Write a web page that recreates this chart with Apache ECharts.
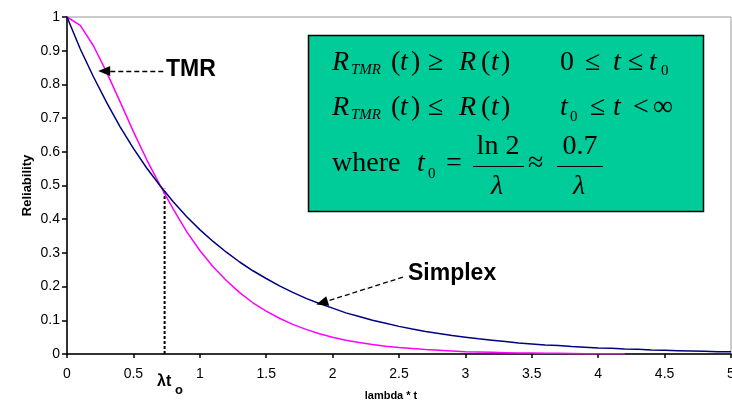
<!DOCTYPE html>
<html>
<head>
<meta charset="utf-8">
<script src="https://cdn.jsdelivr.net/npm/echarts@6/dist/echarts.min.js"></script>
<style>
html,body{margin:0;padding:0;background:#fff;}
#chart{width:732px;height:403px;}
</style>
</head>
<body>
<div id="chart"></div>
<script>
// ---- data ----
const xValues = [0,0.1,0.2,0.3,0.4,0.5,0.6,0.7,0.8,0.9,1.0,1.1,1.2,1.3,1.4,1.5,1.6,1.7,1.8,1.9,2.0,2.1,2.2,2.3,2.4,2.5,2.6,2.7,2.8,2.9,3.0,3.1,3.2,3.3,3.4,3.5,3.6,3.7,3.8,3.9,4.0,4.1,4.2,4.3,4.4,4.5,4.6,4.7,4.8,4.9,5.0];
const simplexValues = [1,0.905,0.822,0.745,0.674,0.610,0.552,0.500,0.452,0.408,0.369,0.334,0.302,0.273,0.247,0.224,0.202,0.183,0.165,0.150,0.136,0.122,0.111,0.100,0.091,0.082,0.074,0.067,0.061,0.055,0.050,0.045,0.041,0.037,0.033,0.030,0.027,0.025,0.022,0.020,0.018,0.017,0.015,0.014,0.012,0.011,0.010,0.009,0.008,0.007,0.007];
const tmrValues = [1,0.975,0.914,0.835,0.748,0.660,0.577,0.501,0.430,0.364,0.307,0.259,0.218,0.182,0.152,0.127,0.106,0.088,0.073,0.060,0.050,0.041,0.034,0.028,0.023,0.019,0.016,0.013,0.011,0.009,0.007,0.006,0.005,0.004,0.003,0.003,0.002,0.002,0.0015,0.001,0.001,0.001,0.001];
const t0X = 0.735;
const t0Y = 0.49;
const tmrArrow = [[0.725, 0.84], [0.28, 0.84]];
const simplexArrow = [[2.53, 0.228], [1.92, 0.152]];
const xAxisName = 'lambda * t';
const yAxisName = 'Reliability';

// ---- build ----
const simplexData = simplexValues.map((v, i) => [xValues[i], v]);
const tmrData = tmrValues.map((v, i) => [xValues[i], v]);
const t0Data = [[t0X, 0], [t0X, t0Y]];

const sans = '"Liberation Sans", Arial, sans-serif';
const serif = '"Liberation Serif", "Times New Roman", serif';

function txt(text, x, y, size, italic, align, family, weight) {
  return {
    type: 'text', x: x, y: y, z: 100,
    style: {
      text: text, fill: '#000',
      fontSize: size, fontFamily: family || serif,
      fontStyle: italic ? 'italic' : 'normal',
      fontWeight: weight || 'normal',
      align: align || 'left', verticalAlign: 'middle',
      textAlign: align || 'left', textVerticalAlign: 'middle'
    }
  };
}

const M = 28, S = 15;
const y1 = 62.5, y2 = 107.5, y3 = 164;
const boxTexts = [
  // line 1
  txt('R', 332, y1, M, true), txt('TMR', 351, y1 + 7.5, S, true),
  txt('(', 391, y1, M), txt('t', 400, y1, M, true), txt(')', 411, y1, M),
  txt('\u2265', 428, y1, M), txt('R', 459, y1, M, true),
  txt('(', 481, y1, M), txt('t', 491, y1, M, true), txt(')', 501, y1, M),
  txt('0', 560, y1, M), txt('\u2264', 585, y1, M), txt('t', 613, y1, M, true),
  txt('\u2264', 628, y1, M), txt('t', 649, y1, M, true), txt('0', 661, y1 + 9, S),
  // line 2
  txt('R', 332, y2, M, true), txt('TMR', 351, y2 + 7.5, S, true),
  txt('(', 391, y2, M), txt('t', 400, y2, M, true), txt(')', 411, y2, M),
  txt('\u2264', 428, y2, M), txt('R', 459, y2, M, true),
  txt('(', 481, y2, M), txt('t', 491, y2, M, true), txt(')', 501, y2, M),
  txt('t', 560, y2, M, true), txt('0', 570, y2 + 10, S),
  txt('\u2264', 590, y2, M), txt('t', 613, y2, M, true),
  txt('<', 633, y2, M), txt('\u221E', 653, y2, M),
  // line 3
  txt('where', 332, y3, M), txt('t', 417, y3, M, true), txt('0', 428, y3 + 10, S),
  txt('=', 446, y3, M),
  txt('ln 2', 498, 146.5, M, false, 'center'),
  txt('\u03BB', 497, 186.5, M, true, 'center'),
  txt('\u2248', 528, y3, M),
  txt('0.7', 580, 146.5, M, false, 'center'),
  txt('\u03BB', 579, 186.5, M, true, 'center')
];

const chart = echarts.init(document.getElementById('chart'), null, {renderer: 'canvas'});
chart.setOption({
  animation: false,
  backgroundColor: '#fff',
  grid: {
    left: 67, right: 1, top: 17, bottom: 49,
    containLabel: false, outerBoundsMode: 'none',
    show: true, borderColor: '#999', borderWidth: 1, backgroundColor: 'transparent'
  },
  xAxis: {
    type: 'value', min: 0, max: 5, interval: 0.5,
    name: xAxisName, nameLocation: 'middle', nameGap: 36, nameMoveOverlap: false,
    nameTextStyle: {color: '#000', fontSize: 11, fontWeight: 'bold', fontFamily: sans, padding: [0, 16, 0, 0]},
    axisLine: {show: true, onZero: false, lineStyle: {color: '#000', width: 1.5}},
    axisTick: {show: true, inside: false, length: 4, lineStyle: {color: '#000', width: 1.5}},
    axisLabel: {color: '#000', fontSize: 14, fontFamily: sans, margin: 13, showMaxLabel: true},
    splitLine: {show: false}
  },
  yAxis: {
    type: 'value', min: 0, max: 1, interval: 0.1,
    name: yAxisName, nameLocation: 'middle', nameGap: 33, nameRotate: 90, nameMoveOverlap: false,
    nameTextStyle: {color: '#000', fontSize: 13, fontWeight: 'bold', fontFamily: sans},
    axisLine: {show: true, onZero: false, lineStyle: {color: '#000', width: 1.5}},
    axisTick: {show: true, inside: false, length: 5, lineStyle: {color: '#000', width: 1.5}},
    axisLabel: {color: '#000', fontSize: 14, fontFamily: sans, margin: 7},
    splitLine: {show: false}
  },
  series: [
    {
      name: 'TMR', type: 'line', data: tmrData, showSymbol: false, symbol: 'none',
      lineStyle: {color: '#FF00FF', width: 1.5}, z: 3
    },
    {
      name: 'Simplex', type: 'line', data: simplexData, showSymbol: false, symbol: 'none',
      lineStyle: {color: '#000080', width: 1.5}, z: 4
    },
    {
      name: 't0', type: 'line', data: t0Data, showSymbol: false, symbol: 'none',
      lineStyle: {color: '#000', width: 2, type: [3, 2]}, z: 2,
      markLine: {
        silent: true, animation: false,
        symbol: ['none', 'triangle'], symbolSize: [10, 12],
        label: {show: false},
        lineStyle: {color: '#000', width: 1.3, type: [5, 3]},
        data: [
          [{coord: tmrArrow[0]}, {coord: tmrArrow[1]}],
          [{coord: simplexArrow[0]}, {coord: simplexArrow[1]}]
        ]
      }
    }
  ],
  graphic: [
    {
      type: 'rect', z: 50,
      shape: {x: 308.5, y: 35.5, width: 395, height: 176},
      style: {fill: '#00CC99', stroke: '#000', lineWidth: 1.5}
    },
    {type: 'line', z: 100, shape: {x1: 473, y1: 166.5, x2: 524, y2: 166.5}, style: {stroke: '#000', lineWidth: 1.2}},
    {type: 'line', z: 100, shape: {x1: 557, y1: 166.5, x2: 603, y2: 166.5}, style: {stroke: '#000', lineWidth: 1.2}},
    ...boxTexts,
    txt('TMR', 166, 69.5, 23, false, 'left', sans, 'bold'),
    txt('Simplex', 408, 273.5, 23, false, 'left', sans, 'bold'),
    txt('\u03BBt', 157, 382, 16, false, 'left', sans, 'bold'),
    txt('o', 175, 390, 13, false, 'left', sans, 'bold')
  ]
});
</script>
</body>
</html>
